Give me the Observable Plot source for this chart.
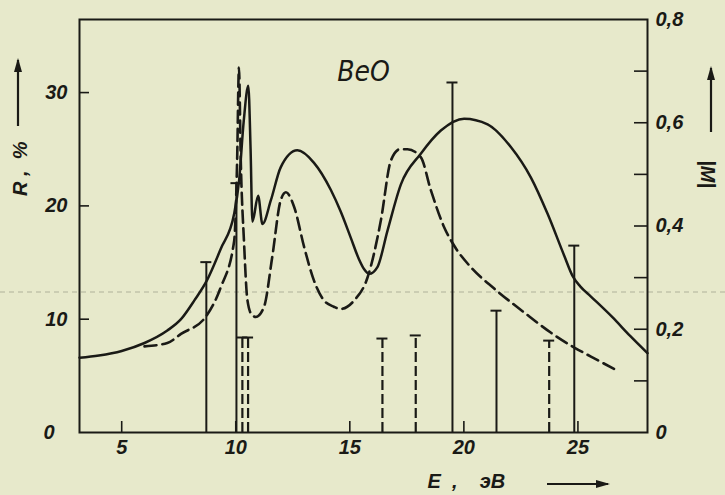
<!DOCTYPE html>
<html><head><meta charset="utf-8">
<script src="https://cdn.jsdelivr.net/npm/d3@7"></script>
<script src="https://cdn.jsdelivr.net/npm/@observablehq/plot@0.6"></script>
<style>
html,body{margin:0;padding:0;background:#e7e9cb;}
#chart svg{display:block;}
</style></head>
<body><div id="chart"></div>
<script>
// ---- data ----
// Solid curve: R (%) vs E (eV)
const solidE = [3.15, 4.0, 5.0, 6.0, 7.0, 7.6, 8.2, 8.73, 9.34, 9.93, 10.15, 10.35, 10.55, 10.65, 10.73, 10.98, 11.17, 11.54, 11.97, 12.7, 13.43, 14.17, 14.6, 15.04, 15.4, 15.63, 15.85, 16.21, 16.65, 17.24, 18.11, 18.99, 20.01, 21.04, 22.06, 22.94, 23.67, 24.4, 24.77, 25.1, 25.57, 26.5, 27.3, 28.05];
const solidR = [6.6, 6.8, 7.2, 7.9, 9.0, 10.0, 11.7, 13.4, 16.2, 19.3, 22.3, 27.5, 30.6, 25.0, 18.6, 20.9, 18.4, 20.5, 23.4, 24.9, 23.8, 21.4, 19.5, 17.2, 15.3, 14.4, 14.0, 14.6, 17.8, 21.9, 24.6, 26.65, 27.7, 27.2, 25.2, 22.5, 19.3, 15.6, 13.8, 12.9, 12.0, 10.2, 8.5, 7.0];
// Dashed curve: R (%) vs E (eV)
const dashE = [6.0, 7.0, 7.6, 8.68, 9.34, 9.93, 10.06, 10.14, 10.22, 10.36, 10.51, 10.7, 10.88, 11.24, 11.6, 11.97, 12.2, 12.56, 13.0, 13.43, 13.87, 14.3, 14.6, 15.19, 15.78, 16.36, 16.8, 17.2, 17.53, 18.11, 18.55, 19.14, 19.57, 20.3, 21.33, 22.64, 23.82, 24.84, 25.57, 26.6];
const dashR = [7.6, 7.9, 8.7, 10.2, 12.8, 16.9, 24.0, 32.2, 24.0, 16.9, 11.7, 10.4, 10.2, 11.1, 15.5, 20.5, 21.2, 19.9, 16.35, 13.4, 11.65, 11.1, 10.9, 11.65, 13.7, 18.7, 24.0, 25.0, 25.0, 24.3, 21.4, 18.1, 16.5, 14.6, 12.7, 10.6, 8.8, 7.5, 6.7, 5.6];
// |M| bars (right axis)
const barSolidE = [8.71, 10.03, 19.5, 21.43, 24.84];
const barSolidM = [0.33, 0.483, 0.678, 0.236, 0.362];
const barDashE = [10.29, 10.54, 16.43, 17.89, 23.74];
const barDashM = [0.184, 0.184, 0.182, 0.188, 0.178];
// ticks
const eTicks = [5, 10, 15, 20, 25];
const rTicks = [10, 20, 30];
const rLabels = [10, 20, 30];
const mTicks = [0.1, 0.2, 0.3, 0.4, 0.5, 0.6, 0.7];
const mLabels = [0, 0.2, 0.4, 0.6, 0.8];

// ---- chart ----
const W = 725, H = 495;
const mL = 79, mR = 78, mT = 19, mB = 63;
const E_DOMAIN = [3.15, 28.05];
const R_MAX = 36.45, M_MAX = 0.8;
const k = R_MAX / M_MAX;
const pxPerE = (W - mL - mR) / (E_DOMAIN[1] - E_DOMAIN[0]);
const pxPerR = (H - mT - mB) / R_MAX;

const solid = solidE.map((e, i) => ({E: e, R: solidR[i]}));
const dash = dashE.map((e, i) => ({E: e, R: dashR[i]}));
const barsS = barSolidE.map((e, i) => ({E: e, M: barSolidM[i]}));
const barsD = barDashE.map((e, i) => ({E: e, M: barDashM[i]}));

const ink = "#1a1a16";
const font = "'Liberation Sans', Arial, sans-serif";
const narrow = "'Liberation Sans Narrow', 'DejaVu Sans Condensed', 'Liberation Sans', sans-serif";
const capHalf = 5.5 / pxPerE;
const tickE = 10 / pxPerE;
const tickR = 11 / pxPerR;
const fmtM = d => d === 0 ? "0" : d.toFixed(1).replace(".", ",");
const txt = {fill: ink, fontFamily: font, fontStyle: "italic", fontWeight: "bold", fontSize: 20};

const plot = Plot.plot({
  width: W, height: H,
  marginLeft: mL, marginRight: mR, marginTop: mT, marginBottom: mB,
  x: {domain: E_DOMAIN, axis: null},
  y: {domain: [0, R_MAX], axis: null},
  style: {background: "transparent", overflow: "visible", fontFamily: font},
  marks: [
    // bars
    Plot.ruleX(barsS, {x: "E", y1: 0, y2: d => d.M * k, stroke: ink, strokeWidth: 2}),
    Plot.ruleY(barsS, {y: d => d.M * k, x1: d => d.E - capHalf, x2: d => d.E + capHalf, stroke: ink, strokeWidth: 2}),
    Plot.ruleX(barsD, {x: "E", y1: 0, y2: d => d.M * k, stroke: ink, strokeWidth: 2.2, strokeDasharray: "10,4"}),
    Plot.ruleY(barsD, {y: d => d.M * k, x1: d => d.E - capHalf, x2: d => d.E + capHalf, stroke: ink, strokeWidth: 2}),
    // curves
    Plot.line(solid, {x: "E", y: "R", curve: "monotone-x", stroke: ink, strokeWidth: 2.5}),
    Plot.line(dash, {x: "E", y: "R", curve: "monotone-x", stroke: ink, strokeWidth: 2.6, strokeDasharray: "12,6"}),
    // frame and inward ticks
    Plot.frame({stroke: ink, strokeWidth: 2}),
    Plot.ruleX(eTicks, {x: d => d, y1: 0, y2: tickR, stroke: ink, strokeWidth: 1.6}),
    Plot.ruleY(rTicks, {y: d => d, x1: E_DOMAIN[0], x2: E_DOMAIN[0] + tickE, stroke: ink, strokeWidth: 1.6}),
    Plot.ruleY(mTicks, {y: d => d * k, x1: E_DOMAIN[1] - 1.3 * tickE, x2: E_DOMAIN[1], stroke: ink, strokeWidth: 1.6}),
    // tick labels
    Plot.text(eTicks, {x: d => d, text: d => String(d), frameAnchor: "bottom", dy: 21, ...txt}),
    Plot.text(rLabels, {y: d => d, text: d => String(d), frameAnchor: "left", dx: -12, textAnchor: "end", ...txt}),
    Plot.text([0], {y: d => d, text: d => String(d), frameAnchor: "left", dx: -25, textAnchor: "end", ...txt}),
    Plot.text(mLabels, {y: d => d * k, text: fmtM, frameAnchor: "right", dx: 8, textAnchor: "start", ...txt}),
    // titles
    Plot.text(["BeO"], {text: d => d, frameAnchor: "top", dx: 0, dy: 42, ...txt, fontFamily: narrow, fontWeight: "normal", fontSize: 28}),
    Plot.text(["R\u00a0,\u00a0\u00a0%"], {text: d => d, frameAnchor: "left", dx: -59, dy: -30, rotate: -90, ...txt, fontSize: 20}),
    Plot.text(["|M|"], {text: d => d, frameAnchor: "right", dx: 60, dy: -38, rotate: 90, ...txt, fontSize: 20}),
    Plot.text(["E\u00a0\u00a0,\u00a0\u00a0\u00a0\u00a0эВ"], {text: d => d, frameAnchor: "bottom", dx: 64, dy: 55, textAnchor: "start", ...txt, fontSize: 20})
  ]
});
document.getElementById("chart").appendChild(plot);

// decorations: arrows next to the axis titles and the faint fold line of the scanned page
const svg = d3.select(plot);
svg.insert("line", ":first-child").attr("x1", 0).attr("x2", W).attr("y1", 292).attr("y2", 292)
  .attr("stroke", "#8d8f7c").attr("stroke-width", 1).attr("stroke-dasharray", "5,4").attr("opacity", 0.6);
function arrow(x1, y1, x2, y2) {
  const g = svg.append("g").attr("stroke", ink).attr("fill", ink);
  g.append("line").attr("x1", x1).attr("y1", y1).attr("x2", x2).attr("y2", y2).attr("stroke-width", 2.2);
  const a = Math.atan2(y2 - y1, x2 - x1), L = 12, Wd = 4;
  const bx = x2 - L * Math.cos(a), by = y2 - L * Math.sin(a);
  const px = -Math.sin(a) * Wd, py = Math.cos(a) * Wd;
  g.append("path").attr("stroke", "none")
    .attr("d", `M${x2 + 2 * Math.cos(a)},${y2 + 2 * Math.sin(a)}L${bx + px},${by + py}L${bx - px},${by - py}Z`);
}
arrow(18, 126, 18, 60);
arrow(711, 132, 711, 68);
arrow(547, 484, 608, 484);
</script>
</body></html>
